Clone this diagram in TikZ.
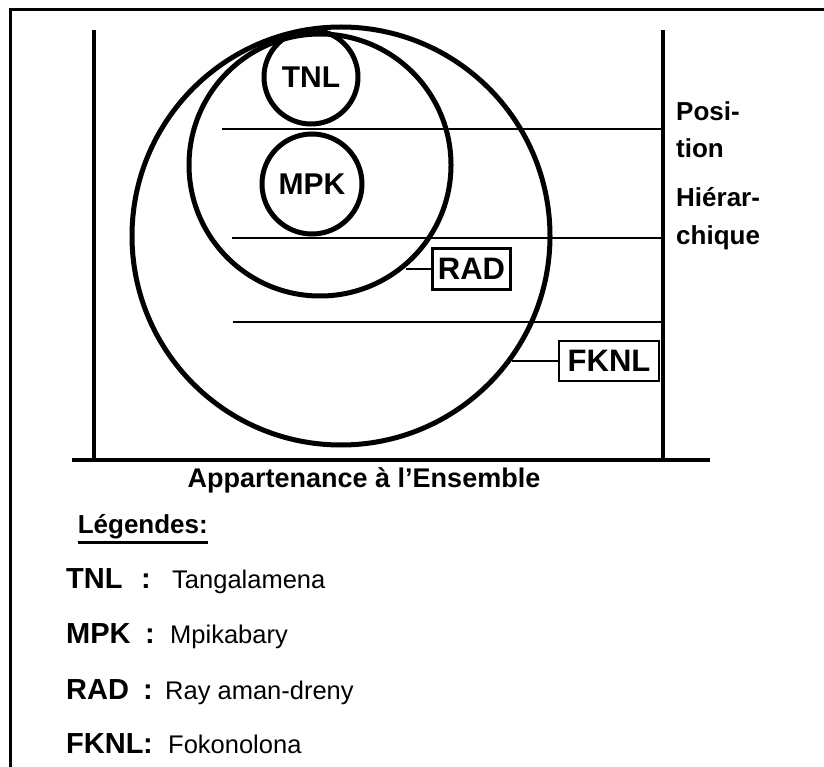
\documentclass[tikz,border=0pt]{standalone}
\usepackage{fontspec}
\setmainfont{Liberation Sans}
\begin{document}
\begin{tikzpicture}[x=1pt,y=-1pt,
  framebar/.style={line width=3pt},
  axisbar/.style={line width=4pt},
  ring/.style={circle,draw,line width=5pt,inner sep=0pt,font=\fontsize{30}{30}\selectfont\bfseries},
  levelline/.style={line width=1.8pt},
  tagbox/.style={draw,line width=2.6pt,inner sep=0pt,font=\fontsize{31}{31}\selectfont\bfseries},
  tagwire/.style={line width=2.6pt},
  sidetxt/.style={anchor=base west,inner sep=0pt,font=\fontsize{26}{26}\selectfont\bfseries},
  abbr/.style={anchor=base west,inner sep=0pt,font=\fontsize{29}{29}\selectfont\bfseries},
  desc/.style={anchor=base west,inner sep=0pt,font=\fontsize{25.5}{25.5}\selectfont}]
\useasboundingbox (0,0) rectangle (824,767);
% frame
\draw[framebar] (10,767) -- (10,10) -- (824,10);
% axes
\draw[axisbar] (94,30) -- (94,460);
\draw[axisbar] (663,30) -- (663,460);
\draw[axisbar] (72,460) -- (710,460);
% level lines
\draw[levelline] (222,129) -- (663,129);
\draw[levelline] (232,238) -- (663,238);
\draw[levelline] (233,322) -- (663,322);
% circles
\node[ring,minimum size=418pt] (fknl) at (341,236) {};
\node[ring,minimum size=262pt] (rad) at (320,165) {};
\node[ring,minimum size=94pt] (tnl) at (311,77) {TNL};
\node[ring,minimum size=100pt] (mpk) at (312,184) {MPK};
% tags
\node[tagbox,minimum width=78pt,minimum height=41pt] (radbox) at (471.5,269) {RAD};
\node[tagbox,minimum width=100pt,minimum height=40pt] (fknlbox) at (609,361) {FKNL};
\draw[tagwire] (radbox.west) -- (radbox.west -| rad.-50);
\draw[tagwire] (fknlbox.west) -- (fknlbox.west -| fknl.-36);
% side text
\node[sidetxt] (s1) at (676,121) {Posi-};
\node[sidetxt] (s2) at (676,158) {tion};
\node[sidetxt] (s3) at (676,207) {Hiérar-};
\node[sidetxt] (s4) at (676,244) {chique};
% axis label
\node[anchor=base,inner sep=0pt,font=\fontsize{27}{27}\selectfont\bfseries] (app) at (364,487) {Appartenance à l'Ensemble};
% legend
\node[anchor=base east,inner sep=0pt,font=\fontsize{26}{26}\selectfont\bfseries] (leg) at (208,533) {Légendes:};
\draw[line width=2.5pt] ([yshift=-4pt]leg.south west) -- ([yshift=-4pt]leg.south east);
\node[abbr] (a1) at (66,588) {TNL};
\node[abbr] (a2) at (66,643) {MPK};
\node[abbr] (a3) at (66,699) {RAD};
\node[abbr] (a4) at (66,753) {FKNL};
\node[abbr] (c1) at (141,588) {:};
\node[abbr] (c2) at (145,643) {:};
\node[abbr] (c3) at (143,699) {:};
\node[abbr] (c4) at (143,753) {:};
\node[desc] (d1) at (172,588) {Tangalamena};
\node[desc] (d2) at (170,643) {Mpikabary};
\node[desc] (d3) at (165,699) {Ray aman-dreny};
\node[desc] (d4) at (168,753) {Fokonolona};
\end{tikzpicture}
\end{document}
